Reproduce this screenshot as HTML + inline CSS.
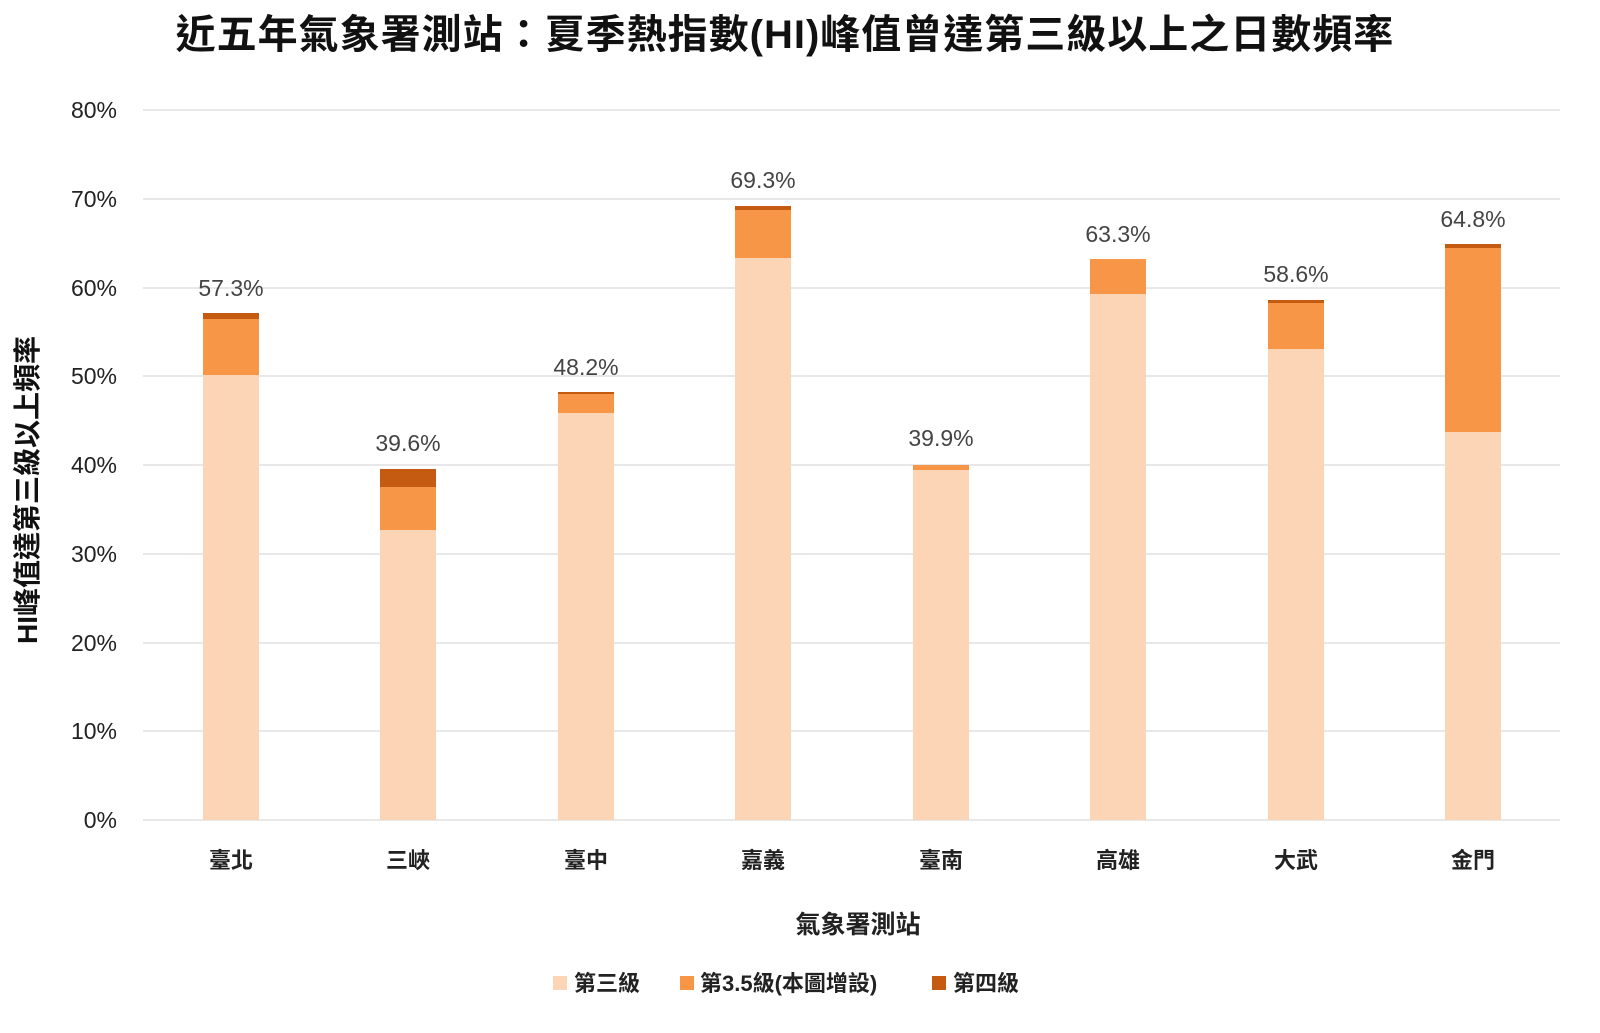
<!DOCTYPE html>
<html><head><meta charset="utf-8"><style>
body{margin:0;background:#fff}
svg text{font-family:"Liberation Sans","Noto Sans CJK TC",sans-serif}
</style></head><body>
<svg width="1600" height="1028" xmlns="http://www.w3.org/2000/svg">
<text x="785" y="48" font-size="40" font-weight="bold" letter-spacing="1" text-anchor="middle" fill="#111">近五年氣象署測站：夏季熱指數(HI)峰值曾達第三級以上之日數頻率</text>
<g stroke="#d9d9d9" stroke-width="1.3">
<line x1="143" x2="1560" y1="110" y2="110"/><line x1="143" x2="1560" y1="199" y2="199"/>
<line x1="143" x2="1560" y1="288" y2="288"/><line x1="143" x2="1560" y1="376" y2="376"/>
<line x1="143" x2="1560" y1="465" y2="465"/><line x1="143" x2="1560" y1="554" y2="554"/>
<line x1="143" x2="1560" y1="643" y2="643"/><line x1="143" x2="1560" y1="731" y2="731"/>
<line x1="143" x2="1560" y1="820" y2="820"/>
</g>
<g font-size="23" fill="#222" text-anchor="end">
<text x="117" y="118">80%</text><text x="117" y="207">70%</text><text x="117" y="296">60%</text>
<text x="117" y="384">50%</text><text x="117" y="473">40%</text><text x="117" y="562">30%</text>
<text x="117" y="651">20%</text><text x="117" y="739">10%</text><text x="117" y="828">0%</text>
</g>
<text transform="translate(37,490) rotate(-90)" font-size="28" font-weight="bold" text-anchor="middle" fill="#111">HI峰值達第三級以上頻率</text>
<g id="bars">
<rect x="203" y="375" width="56" height="445" fill="#FBD5B5"/><rect x="203" y="319" width="56" height="56" fill="#F79646"/><rect x="203" y="313" width="56" height="6" fill="#C55A11"/>
<rect x="380" y="530" width="56" height="290" fill="#FBD5B5"/><rect x="380" y="487" width="56" height="43" fill="#F79646"/><rect x="380" y="469" width="56" height="18" fill="#C55A11"/>
<rect x="558" y="413" width="56" height="407" fill="#FBD5B5"/><rect x="558" y="394" width="56" height="19" fill="#F79646"/><rect x="558" y="392" width="56" height="2" fill="#C55A11"/>
<rect x="735" y="258" width="56" height="562" fill="#FBD5B5"/><rect x="735" y="210" width="56" height="48" fill="#F79646"/><rect x="735" y="206" width="56" height="4" fill="#C55A11"/>
<rect x="913" y="470" width="56" height="350" fill="#FBD5B5"/><rect x="913" y="465" width="56" height="5" fill="#F79646"/>
<rect x="1090" y="294" width="56" height="526" fill="#FBD5B5"/><rect x="1090" y="259" width="56" height="35" fill="#F79646"/>
<rect x="1268" y="349" width="56" height="471" fill="#FBD5B5"/><rect x="1268" y="303" width="56" height="46" fill="#F79646"/><rect x="1268" y="300" width="56" height="3" fill="#C55A11"/>
<rect x="1445" y="432" width="56" height="388" fill="#FBD5B5"/><rect x="1445" y="248" width="56" height="184" fill="#F79646"/><rect x="1445" y="244" width="56" height="4" fill="#C55A11"/>
</g>
<g font-size="23" fill="#444" text-anchor="middle">
<text x="231" y="296">57.3%</text><text x="408" y="451">39.6%</text><text x="586" y="375">48.2%</text>
<text x="763" y="188">69.3%</text><text x="941" y="446">39.9%</text><text x="1118" y="242">63.3%</text>
<text x="1296" y="282">58.6%</text><text x="1473" y="227">64.8%</text>
</g>
<g font-size="22" font-weight="bold" fill="#222" text-anchor="middle">
<text x="231" y="868">臺北</text><text x="408" y="868">三峽</text><text x="586" y="868">臺中</text>
<text x="763" y="868">嘉義</text><text x="941" y="868">臺南</text><text x="1118" y="868">高雄</text>
<text x="1296" y="868">大武</text><text x="1473" y="868">金門</text>
</g>
<text x="858" y="933" font-size="25" font-weight="bold" text-anchor="middle" fill="#222">氣象署測站</text>
<g font-size="22" font-weight="bold" fill="#222">
<rect x="553" y="976" width="14" height="14" fill="#FBD5B5"/><text x="574" y="991">第三級</text>
<rect x="680" y="976" width="14" height="14" fill="#F79646"/><text x="700" y="991">第3.5級(本圖增設)</text>
<rect x="932" y="976" width="14" height="14" fill="#C55A11"/><text x="953" y="991">第四級</text>
</g>
</svg>
</body></html>
